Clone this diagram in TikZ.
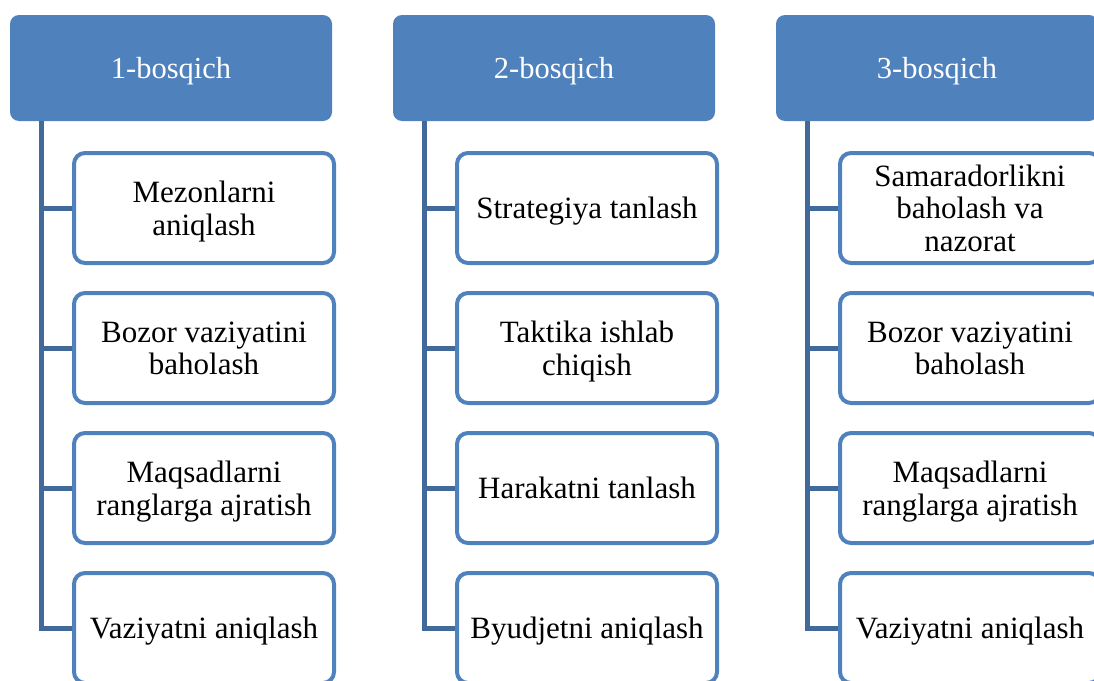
\documentclass[tikz,border=0pt]{standalone}
\usepackage{fontspec}
\setmainfont{Liberation Serif}
\begin{document}
\begin{tikzpicture}[x=1pt,y=-1pt,
  head/.style={draw=none,fill=hblue,rounded corners=9pt,minimum width=322pt,minimum height=106pt,
    text=white,font=\fontsize{30.5}{32.5}\selectfont,inner sep=0pt,text depth=0pt},
  item/.style={draw=hblue,line width=4pt,fill=white,rounded corners=11pt,minimum width=260pt,minimum height=110pt,
    align=center,font=\fontsize{31}{32.5}\selectfont,inner sep=2pt,text depth=0pt},
  conn/.style={draw=lblue,line width=5pt}]
\definecolor{hblue}{HTML}{4F81BD}
\definecolor{lblue}{HTML}{41699A}
\clip (0,0) rectangle (1094,680);
\useasboundingbox (0,0) rectangle (1094,680);
\foreach \c/\h/\a/\b/\cc/\d in {
  0/1-bosqich/Mezonlarni\\aniqlash/Bozor vaziyatini\\baholash/Maqsadlarni\\ranglarga ajratish/Vaziyatni aniqlash,
  1/2-bosqich/Strategiya tanlash/Taktika ishlab\\chiqish/Harakatni tanlash/Byudjetni aniqlash,
  2/3-bosqich/Samaradorlikni\\baholash va\\nazorat/Bozor vaziyatini\\baholash/Maqsadlarni\\ranglarga ajratish/Vaziyatni aniqlash}{
  \pgfmathsetmacro{\ox}{383*\c}
  \begin{scope}[xshift=\ox]
    \node[head] (h\c) at (171,68) {\h};
    \coordinate (t\c) at (41,121);
    \node[item] (a\c) at (204,208) {\a};
    \node[item] (b\c) at (204,348) {\b};
    \node[item] (c\c) at (204,488) {\cc};
    \node[item] (d\c) at (204,628) {\d};
  \end{scope}
  \draw[conn] (t\c) |- (d\c.west);
  \draw[conn] (a\c.west) -- (a\c.west -| t\c);
  \draw[conn] (b\c.west) -- (b\c.west -| t\c);
  \draw[conn] (c\c.west) -- (c\c.west -| t\c);
}
\end{tikzpicture}
\end{document}
